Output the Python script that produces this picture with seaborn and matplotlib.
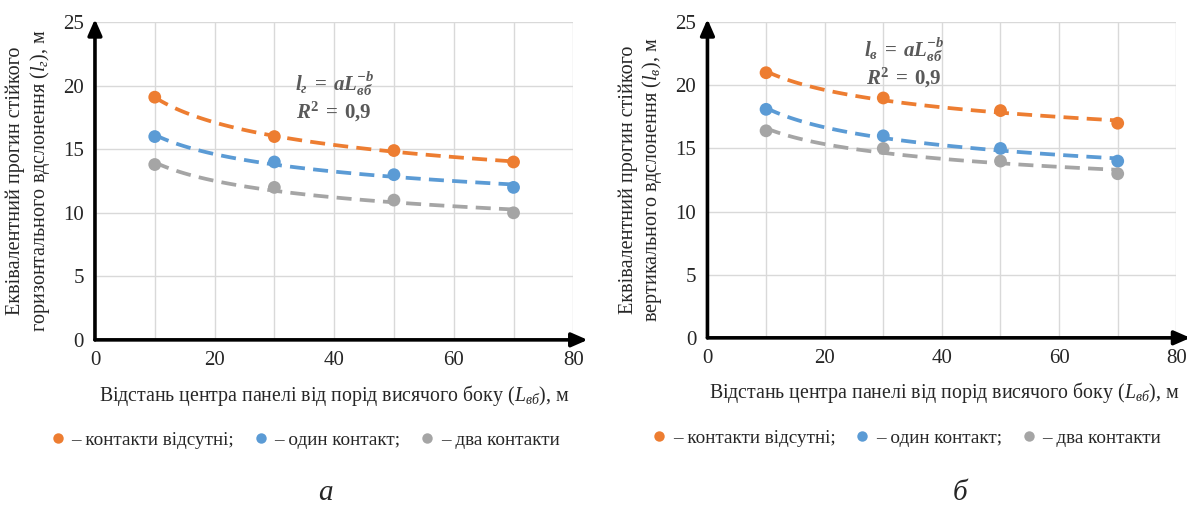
import numpy as np
import pandas as pd
import matplotlib
matplotlib.use("Agg")
import matplotlib.pyplot as plt
import seaborn as sns
from matplotlib.lines import Line2D

# Дані
distance = [10, 30, 50, 70]
series_names = ["– контакти відсутні;", "– один контакт;", "– два контакти"]
colors = ["#ED7D31", "#5B9BD5", "#A5A5A5"]

# а) горизонтальне відслонення
horiz_none = [19.1, 16.0, 14.9, 14.0]
horiz_one = [16.0, 14.0, 13.0, 12.0]
horiz_two = [13.8, 12.0, 11.0, 10.0]

# б) вертикальне відслонення
vert_none = [21.0, 19.0, 18.0, 17.0]
vert_one = [18.1, 16.0, 15.0, 14.0]
vert_two = [16.4, 15.0, 14.0, 13.0]

x_ticks = [0, 20, 40, 60, 80]
y_ticks = [0, 5, 10, 15, 20, 25]

sns.set_theme(style="white")
plt.rcParams["font.family"] = ["Liberation Serif", "DejaVu Serif"]
plt.rcParams["mathtext.fontset"] = "custom"
plt.rcParams["mathtext.rm"] = "Liberation Serif"
plt.rcParams["mathtext.it"] = "Liberation Serif:italic"
plt.rcParams["mathtext.bf"] = "Liberation Serif:bold"
plt.rcParams["mathtext.bfit"] = "Liberation Serif:italic:bold"


def make_frame(none, one, two):
    rows = []
    for name, vals in zip(series_names, [none, one, two]):
        for x, y in zip(distance, vals):
            rows.append({"x": x, "y": y, "series": name})
    return pd.DataFrame(rows)


def draw_panel(ax, df, ylabel, formula, fpos, xlab_x, leg_x):
    # лінії тренду (степенева апроксимація)
    xs = np.linspace(distance[0], distance[-1], 100)
    for name, col in zip(series_names, colors):
        sub = df[df["series"] == name]
        b, loga = np.polyfit(np.log(sub["x"]), np.log(sub["y"]), 1)
        ax.plot(xs, np.exp(loga) * xs ** b, ls=(0, (4, 2.2)), lw=2.7,
                color=col, zorder=3)
    sns.scatterplot(data=df, x="x", y="y", hue="series", palette=colors,
                    s=85, edgecolor="none", ax=ax, legend=False, zorder=4)

    ax.set_xlim(0, 80)
    ax.set_ylim(0, 25)
    ax.set_xticks(x_ticks)
    ax.set_yticks(y_ticks)
    ax.set_xticks(range(0, 81, 10), minor=True)
    ax.grid(True, which="both", color="#d9d9d9", lw=1)
    ax.tick_params(axis="both", which="both", length=0, labelsize=15,
                   pad=8, colors="#262626")
    for sp in ax.spines.values():
        sp.set_visible(False)

    # осі зі стрілками
    ax.annotate("", xy=(1.03, 0), xytext=(0, 0), xycoords="axes fraction",
                arrowprops=dict(arrowstyle="-|>,head_length=0.8,head_width=0.35",
                                lw=2.6, color="black", shrinkA=0, shrinkB=0),
                annotation_clip=False)
    ax.annotate("", xy=(0, 1.01), xytext=(0, 0), xycoords="axes fraction",
                arrowprops=dict(arrowstyle="-|>,head_length=0.8,head_width=0.35",
                                lw=2.6, color="black", shrinkA=0, shrinkB=0),
                annotation_clip=False)

    ax.set_xlabel(r"Відстань центра панелі від порід висячого боку ($L_{\mathit{вб}}$), м",
                  fontsize=14.3, labelpad=9)
    ax.xaxis.set_label_coords(xlab_x, -0.135)
    ax.set_ylabel(ylabel, fontsize=14.5, labelpad=8, linespacing=1.15)

    ax.text(fpos[0], fpos[1], formula, fontsize=15, color="#595959",
            ha="center", va="center", linespacing=1.1)

    handles = [Line2D([], [], ls="none", marker="o", markersize=7.5,
                      markerfacecolor=c, markeredgecolor="none") for c in colors]
    ax.legend(handles, series_names, loc="upper center",
              bbox_to_anchor=(leg_x, -0.235), ncol=3, frameon=False,
              fontsize=13.8, handletextpad=0.1, columnspacing=0.8,
              handlelength=1.2)


fig = plt.figure(figsize=(11.87, 5.05), dpi=100)
ax1 = fig.add_axes([0.080, 0.327, 0.403, 0.629])
ax2 = fig.add_axes([0.596, 0.331, 0.395, 0.625])

draw_panel(ax1, make_frame(horiz_none, horiz_one, horiz_two),
           "Еквівалентний прогин стійкого\nгоризонтального вдслонення ($l_{\\mathit{г}}$), м",
           r"$\mathbfit{l}_{\mathbfit{г}}\;\mathbf{=}\;\mathbfit{aL}_{\mathbfit{вб}}^{\mathbfit{-b}}$"
           "\n"
           r"$\mathbfit{R}^{\mathbf{2}}\;\mathbf{=}\;\mathbf{0{,}9}$",
           (40, 19.1), 0.5, 0.435)
draw_panel(ax2, make_frame(vert_none, vert_one, vert_two),
           "Еквівалентний прогин стійкого\nвертикального вдслонення ($l_{\\mathit{в}}$), м",
           r"$\mathbfit{l}_{\mathbfit{в}}\;\mathbf{=}\;\mathbfit{aL}_{\mathbfit{вб}}^{\mathbfit{-b}}$"
           "\n"
           r"$\mathbfit{R}^{\mathbf{2}}\;\mathbf{=}\;\mathbf{0{,}9}$",
           (33.5, 21.8), 0.505, 0.42)

fig.text(0.274, 0.01, "а", fontsize=21, style="italic", ha="center")
fig.text(0.809, 0.01, "б", fontsize=21, style="italic", ha="center")

fig.savefig("out.png", dpi=100)
